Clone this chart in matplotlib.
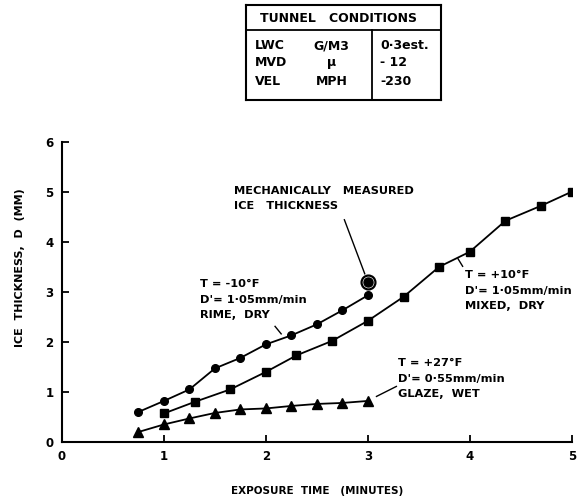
import matplotlib.pyplot as plt
import numpy as np

# ice accretion data
t_rime = [0.75, 1.0, 1.25, 1.5, 1.75, 2.0, 2.25, 2.5, 2.75, 3.0]
d_rime = [0.6, 0.82, 1.05, 1.47, 1.68, 1.95, 2.13, 2.35, 2.63, 2.93]

t_mixed = [1.0, 1.3, 1.65, 2.0, 2.3, 2.65, 3.0, 3.35, 3.7, 4.0, 4.35, 4.7, 5.0]
d_mixed = [0.57, 0.8, 1.05, 1.4, 1.73, 2.02, 2.42, 2.9, 3.5, 3.8, 4.42, 4.72, 5.0]

t_glaze = [0.75, 1.0, 1.25, 1.5, 1.75, 2.0, 2.25, 2.5, 2.75, 3.0]
d_glaze = [0.2, 0.35, 0.47, 0.58, 0.65, 0.67, 0.72, 0.76, 0.78, 0.82]

t_measured = [3.0]
d_measured = [3.2]

table_rows = [("LWC", "G/M3", "0·3est."),
              ("MVD", "µ", "- 12"),
              ("VEL", "MPH", "-230")]

FONT = dict(family="DejaVu Sans", fontweight="bold", color="black")


def main():
    fig = plt.figure(figsize=(5.8, 5.01), dpi=100)
    ax = fig.add_axes([0.1069, 0.1178, 0.8788, 0.5994])

    lw = 1.3
    ax.plot(t_rime, d_rime, color="black", lw=lw, marker="o", ms=5.5)
    ax.plot(t_mixed, d_mixed, color="black", lw=lw, marker="s", ms=5.5)
    ax.plot(t_glaze, d_glaze, color="black", lw=lw, marker="^", ms=6.5)
    ax.plot(t_measured, d_measured, ls="none", marker="o", ms=10,
            mfc="white", mec="black", mew=1.6)
    ax.plot(t_measured, d_measured, ls="none", marker="o", ms=6.5, color="black")

    ax.set_xlim(0, 5)
    ax.set_ylim(0, 6)
    ax.set_xticks(range(6))
    ax.set_yticks(range(7))
    for s in ["top", "right"]:
        ax.spines[s].set_visible(False)
    for s in ["left", "bottom"]:
        ax.spines[s].set_linewidth(1.5)
    ax.tick_params(direction="in", length=5, width=1.3, labelsize=8.5, pad=6)
    for lab in ax.get_xticklabels() + ax.get_yticklabels():
        lab.set_fontweight("bold")

    ax.set_xlabel("EXPOSURE  TIME   (MINUTES)", fontsize=7.5, **FONT)
    ax.xaxis.set_label_coords(0.5, -0.145)
    ax.set_ylabel("ICE  THICKNESS,  D  (MM)", fontsize=8, **FONT)
    ax.yaxis.set_label_coords(-0.072, 0.58)

    txt = dict(fontsize=8.2, linespacing=1.65, ha="left", va="top", **FONT)
    ax.text(1.69, 5.12, "MECHANICALLY   MEASURED\nICE   THICKNESS", **txt)
    ax.plot([2.77, 2.97], [4.44, 3.36], color="black", lw=1)

    ax.text(1.35, 3.25, "T = -10°F\nD'= 1·05mm/min\nRIME,  DRY", **txt)
    ax.plot([2.09, 2.15], [2.31, 2.16], color="black", lw=1)

    ax.text(3.95, 3.43, "T = +10°F\nD'= 1·05mm/min\nMIXED,  DRY", **txt)
    ax.plot([3.885, 3.93], [3.66, 3.51], color="black", lw=1)

    ax.text(3.30, 1.67, "T = +27°F\nD'= 0·55mm/min\nGLAZE,  WET", **txt)
    ax.plot([3.085, 3.28], [0.91, 1.11], color="black", lw=1)

    # tunnel conditions box
    tb = fig.add_axes([0.4241, 0.8004, 0.3357, 0.1896])
    tb.set_xlim(0, 1)
    tb.set_ylim(0, 1)
    tb.set_xticks([])
    tb.set_yticks([])
    for s in tb.spines.values():
        s.set_linewidth(1.5)
    tb.axhline(0.737, color="black", lw=1.3)
    tb.plot([0.646, 0.646], [0, 0.737], color="black", lw=1.3)
    tb.text(0.473, 0.86, "TUNNEL   CONDITIONS", fontsize=9, ha="center", va="center", **FONT)
    ys = [0.57, 0.39, 0.20]
    for (a, b, c), y in zip(table_rows, ys):
        tb.text(0.046, y, a, fontsize=9, ha="left", va="center", **FONT)
        tb.text(0.44, y, b, fontsize=9, ha="center", va="center", **FONT)
        tb.text(0.69, y, c, fontsize=9, ha="left", va="center", **FONT)

    fig.savefig("out.png", dpi=100)


if __name__ == '__main__':
    main()
